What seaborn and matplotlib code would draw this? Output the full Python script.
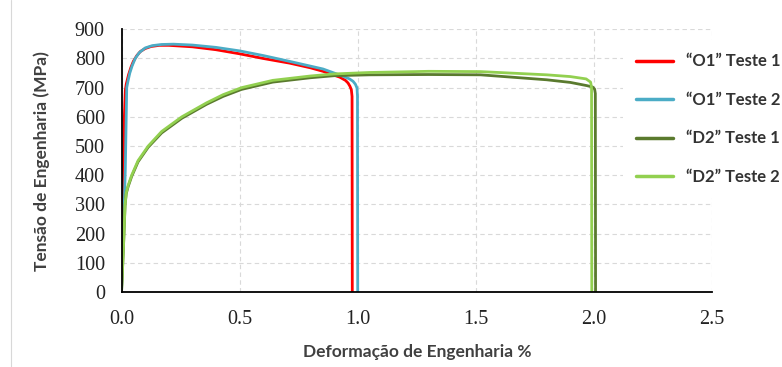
import numpy as np
import pandas as pd
import matplotlib
matplotlib.use("Agg")
import matplotlib.pyplot as plt
from matplotlib.lines import Line2D
import seaborn as sns

# Curvas tensão x deformação
o1_t1_x = [0.0, 0.006, 0.012, 0.016, 0.02, 0.03, 0.04, 0.05, 0.065, 0.08, 0.10, 0.125, 0.16, 0.20,
           0.30, 0.40, 0.50, 0.60, 0.712, 0.80, 0.853, 0.924, 0.948, 0.959, 0.967, 0.973, 0.976, 0.977]
o1_t1_y = [0, 300, 600, 690, 712, 745, 770, 790, 810, 824, 834, 841, 845, 845,
           840, 830, 816, 800, 784, 768, 756, 736, 725, 716, 705, 693, 670, 0]

o1_t2_x = [0.0, 0.008, 0.016, 0.022, 0.028, 0.035, 0.045, 0.058, 0.075, 0.10, 0.13, 0.17, 0.22,
           0.30, 0.40, 0.50, 0.60, 0.712, 0.853, 0.938, 0.965, 0.98, 0.99, 0.997, 0.999, 1.0]
o1_t2_y = [0, 200, 420, 700, 725, 750, 775, 800, 820, 836, 844, 848, 849,
           846, 838, 826, 810, 790, 764, 739, 730, 722, 712, 699, 670, 0]

d2_t1_x = [0.0, 0.008, 0.015, 0.02, 0.028, 0.043, 0.07, 0.113, 0.17, 0.255, 0.36, 0.43, 0.508,
           0.64, 0.80, 0.90, 1.05, 1.30, 1.52, 1.80, 1.90, 1.97, 1.995, 2.003, 2.006, 2.007]
d2_t1_y = [0, 148, 297, 337, 361, 396, 446, 496, 545, 595, 643, 670, 694,
           719, 734, 741, 744, 745, 744, 727, 718, 707, 702, 695, 680, 0]

d2_t2_x = [0.0, 0.008, 0.015, 0.02, 0.028, 0.043, 0.07, 0.113, 0.17, 0.255, 0.36, 0.43, 0.508,
           0.64, 0.80, 0.90, 1.05, 1.30, 1.52, 1.80, 1.90, 1.967, 1.986, 1.990, 1.991]
d2_t2_y = [0, 150, 300, 340, 365, 400, 450, 500, 550, 600, 648, 676, 700,
           725, 740, 747, 752, 756, 755, 744, 738, 730, 719, 700, 0]

series = ["\u201cO1\u201d Teste 1", "\u201cO1\u201d Teste 2", "\u201cD2\u201d Teste 1", "\u201cD2\u201d Teste 2"]
colors = ["#FF0000", "#4BACC6", "#5A7A2E", "#92D050"]

rows = []
for name, xs, ys in zip(series, [o1_t1_x, o1_t2_x, d2_t1_x, d2_t2_x], [o1_t1_y, o1_t2_y, d2_t1_y, d2_t2_y]):
    for i, (x, y) in enumerate(zip(xs, ys)):
        rows.append({"serie": name, "ordem": i, "deformacao": x, "tensao": y})
df = pd.DataFrame(rows)

sns.set_style("white")
plt.rcParams["font.family"] = ["Liberation Serif", "DejaVu Serif"]

fig = plt.figure(figsize=(7.82, 3.67), dpi=100)
ax = fig.add_axes([0.1554, 0.2044, 0.7551, 0.7158])

sns.lineplot(data=df, x="deformacao", y="tensao", hue="serie", hue_order=series,
             palette=dict(zip(series, colors)), sort=False, estimator=None,
             linewidth=2.0, ax=ax, legend=False)

ax.set_xlim(0, 2.5)
ax.set_ylim(0, 900)
ax.set_xticks(np.arange(0, 2.51, 0.5))
ax.set_yticks(np.arange(0, 901, 100))
ax.set_xticklabels([f"{v:.1f}" for v in np.arange(0, 2.51, 0.5)])
ax.tick_params(axis="both", length=0, labelsize=14.5, colors="#222222")
ax.tick_params(axis="x", pad=13)
ax.tick_params(axis="y", pad=12)

ax.grid(True, color="#d9d9d9", linestyle=(0, (4, 3)), linewidth=0.8)
ax.set_axisbelow(True)
for s in ["top", "right"]:
    ax.spines[s].set_visible(False)
for s in ["left", "bottom"]:
    ax.spines[s].set_color("black")
    ax.spines[s].set_linewidth(1.3)

lab_font = dict(family=["Lato", "DejaVu Sans"], weight="bold", size=12.5, color="#404040")
ax.set_xlabel("Deformação de Engenharia %", labelpad=11, **lab_font)
ax.set_ylabel("Tensão de Engenharia (MPa)", labelpad=18, **lab_font)

handles = [Line2D([0], [0], color=c, linewidth=2.5) for c in colors]
leg = fig.legend(handles, series, loc="upper left", bbox_to_anchor=(623 / 782, 1 - 40 / 367),
                 frameon=True, facecolor="white", edgecolor="none", framealpha=1,
                 borderpad=0.8, borderaxespad=0, handlelength=2.2, handletextpad=0.75,
                 labelspacing=1.35, prop=dict(family=["Lato", "DejaVu Sans"], weight="bold", size=12))
for t in leg.get_texts():
    t.set_color("#333333")

# fina borda cinza à esquerda
fig.add_artist(Line2D([11 / 782, 11 / 782], [0, 1], color="#d8d8d8", linewidth=0.8))

fig.savefig("out.png", dpi=100)
